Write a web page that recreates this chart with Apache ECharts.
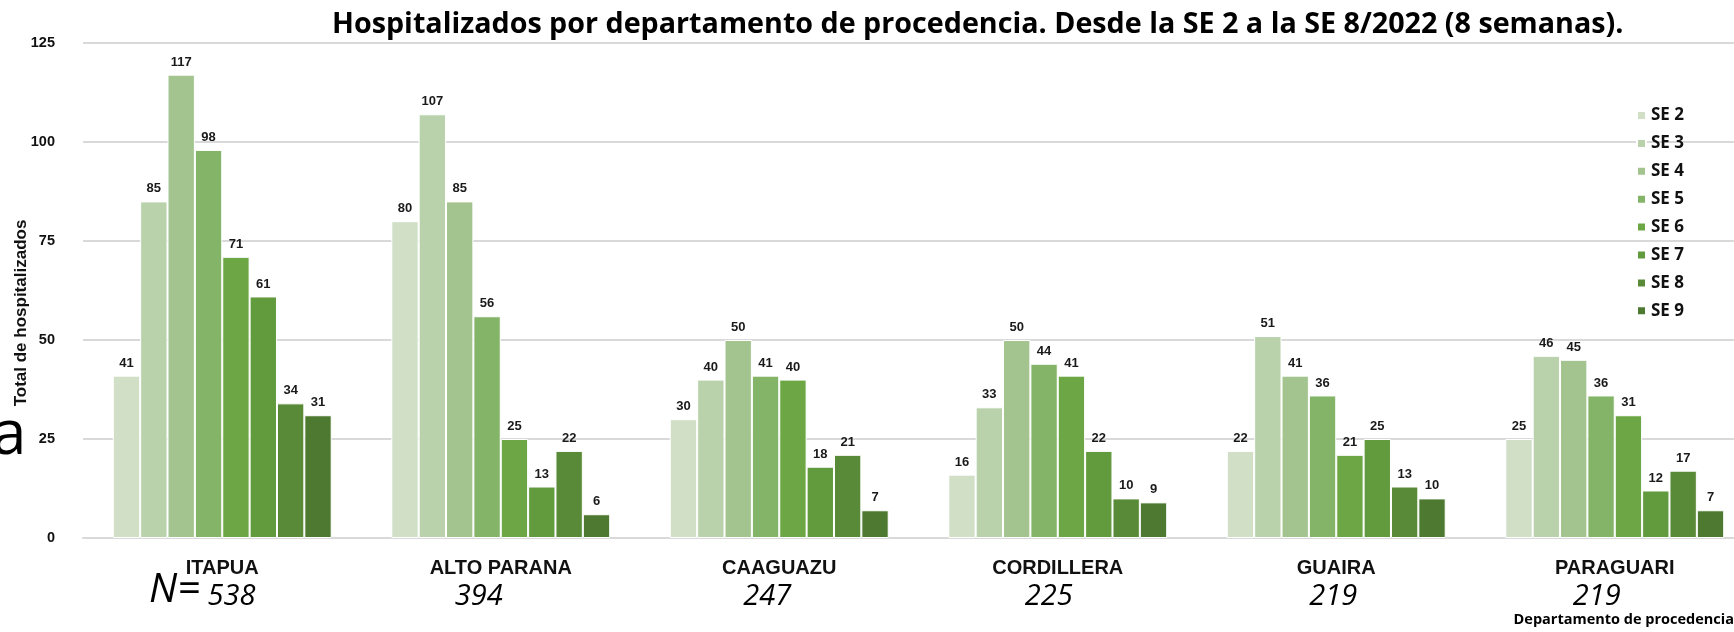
<!DOCTYPE html>
<html>
<head>
<meta charset="utf-8">
<script src="https://cdn.jsdelivr.net/npm/echarts@6/dist/echarts.min.js"></script>
<style>
  html, body { margin: 0; padding: 0; background: #ffffff; }
  #chart { width: 1734px; height: 632px; }
</style>
</head>
<body>
<div id="chart"></div>
<script>
// Hospitalised cases by department of origin, epidemiological weeks SE 2 .. SE 9
const departamentos = ['ITAPUA', 'ALTO PARANA', 'CAAGUAZU', 'CORDILLERA', 'GUAIRA', 'PARAGUARI'];
const semanas = ['SE 2', 'SE 3', 'SE 4', 'SE 5', 'SE 6', 'SE 7', 'SE 8', 'SE 9'];

const se2 = [41, 80, 30, 16, 22, 25];
const se3 = [85, 107, 40, 33, 51, 46];
const se4 = [117, 85, 50, 50, 41, 45];
const se5 = [98, 56, 41, 44, 36, 36];
const se6 = [71, 25, 40, 41, 21, 31];
const se7 = [61, 13, 18, 22, 25, 12];
const se8 = [34, 22, 21, 10, 13, 17];
const se9 = [31, 6, 7, 9, 10, 7];

const yTicks = [0, 25, 50, 75, 100, 125];

const seriesValues = [se2, se3, se4, se5, se6, se7, se8, se9];
const greens = ['#d1dfc7', '#b9d2ac', '#a3c48f', '#84b468', '#6da745', '#629a3e', '#588a37', '#4d7930'];

// horizontal nudge of each total under its department name (px)
const totalShift = [-20, -22, -12, -9, -3, -18];

const ARIAL = '"Liberation Sans", Arial, sans-serif';
const SANS = '"Open Sans", "Noto Sans", sans-serif';

const totals = departamentos.map((_, i) => seriesValues.reduce((s, arr) => s + arr[i], 0));

const chart = echarts.init(document.getElementById('chart'), null, { renderer: 'canvas' });

const series = semanas.map((name, k) => ({
  name,
  type: 'bar',
  data: seriesValues[k],
  barGap: '0%',
  barCategoryGap: '21.4%',
  itemStyle: { color: greens[k], borderColor: '#ffffff', borderWidth: 1 },
  label: {
    show: true,
    position: 'top',
    distance: 6,
    fontFamily: ARIAL,
    fontWeight: 'bold',
    fontSize: 13,
    color: '#1a1a1a'
  },
  emphasis: { disabled: true },
  animation: false
}));

const option = {
  backgroundColor: '#ffffff',
  animation: false,
  title: {
    text: 'Hospitalizados por departamento de procedencia. Desde la SE 2 a la SE 8/2022 (8 semanas).',
    left: 327,
    top: 5,
    textStyle: { fontFamily: SANS, fontWeight: 'bold', fontSize: 28.7, color: '#000000' }
  },
  legend: {
    data: semanas,
    orient: 'vertical',
    left: 1631,
    top: 102,
    itemWidth: 9,
    itemHeight: 9,
    itemGap: 10.9,
    icon: 'rect',
    textStyle: { fontFamily: SANS, fontWeight: 'bold', fontSize: 17, color: '#111111' },
    selectedMode: false
  },
  grid: { left: 83, width: 1671, top: 43, bottom: 94, containLabel: false, outerBoundsMode: 'none' },
  xAxis: {
    type: 'category',
    data: departamentos,
    axisLine: { show: true, lineStyle: { color: '#d9d9d9', width: 2 } },
    axisTick: { show: false },
    axisLabel: {
      margin: 20,
      fontFamily: ARIAL,
      fontWeight: 'bold',
      fontSize: 20,
      color: '#111111',
      interval: 0
    },
    splitLine: { show: false }
  },
  yAxis: {
    type: 'value',
    min: yTicks[0],
    max: yTicks[yTicks.length - 1],
    interval: yTicks[1] - yTicks[0],
    axisLine: { show: false },
    axisTick: { show: false },
    axisLabel: {
      margin: 28,
      fontFamily: ARIAL,
      fontWeight: 'bold',
      fontSize: 14.5,
      color: '#111111'
    },
    splitLine: { show: true, lineStyle: { color: '#d9d9d9', width: 2 } }
  },
  series
};

chart.setOption(option);

// totals written under each department, the axis captions and the stray left letter
const graphics = departamentos.map((d, i) => {
  const x = chart.convertToPixel({ xAxisIndex: 0 }, d) + totalShift[i];
  const text = i === 0 ? '{n|N=}{v| ' + totals[i] + '}' : '{v|' + totals[i] + '}';
  return {
    type: 'text',
    x: x,
    y: 611,
    silent: true,
    style: {
      text: text,
      align: 'center',
      verticalAlign: 'bottom',
      rich: {
        n: { fontFamily: SANS, fontStyle: 'italic', fontSize: 40, fill: '#000000', verticalAlign: 'bottom' },
        v: { fontFamily: SANS, fontStyle: 'italic', fontSize: 29, fill: '#000000', verticalAlign: 'bottom' }
      }
    }
  };
});

graphics.push({
  type: 'text',
  x: 21,
  y: 313,
  rotation: Math.PI / 2,
  silent: true,
  style: {
    text: 'Total de hospitalizados',
    align: 'center',
    verticalAlign: 'middle',
    font: 'bold 17px ' + ARIAL,
    fill: '#111111'
  }
});

graphics.push({
  type: 'text',
  x: 1734,
  y: 620,
  silent: true,
  style: {
    text: 'Departamento de procedencia',
    align: 'right',
    verticalAlign: 'middle',
    font: 'bold 14.5px ' + SANS,
    fill: '#000000'
  }
});

graphics.push({
  type: 'text',
  x: -8,
  y: 436,
  silent: true,
  style: {
    text: 'a',
    align: 'left',
    verticalAlign: 'middle',
    font: '62px ' + SANS,
    fill: '#000000'
  }
});

chart.setOption({ graphic: graphics });
</script>
</body>
</html>
